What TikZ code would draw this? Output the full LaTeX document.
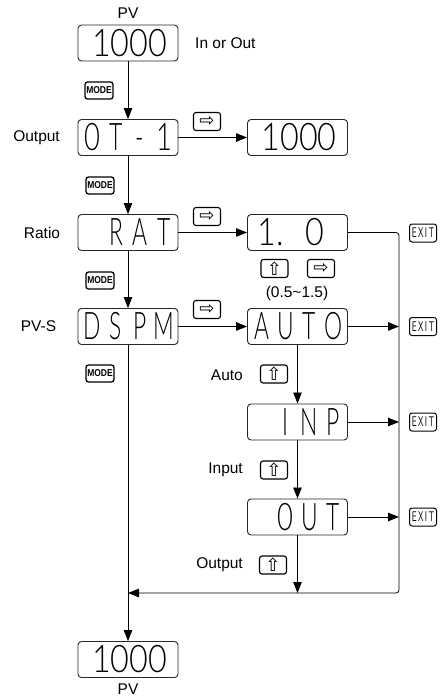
\documentclass[tikz,border=0pt]{standalone}
\usepackage{fontspec}
\usepackage{graphicx}
\setmainfont{Liberation Sans}
\newfontfamily\djv{DejaVu Sans}
\newfontfamily\thinfont{Lato Light}
\usetikzlibrary{arrows.meta}
\newcommand\dispfont{\fontsize{38}{38}\selectfont\thinfont}
\newcommand\lc[1]{\makebox[24pt]{\scalebox{0.6}[1]{#1}}}
\newcommand\dc[1]{\makebox[24pt]{\scalebox{0.72}[1]{#1}}}
\newcommand\ec{\makebox[24pt]{}}
\newcommand\num[1]{\hspace*{3pt}\scalebox{0.85}[1]{#1}}
\begin{document}
\begin{tikzpicture}[x=1pt,y=-1pt,
  disp/.style={draw=black!85, line width=0.9pt, rounded corners=3.5pt, minimum width=100pt, minimum height=36pt, inner sep=0pt, font=\dispfont},
  modekey/.style={draw, line width=1.3pt, rounded corners=2.5pt, minimum width=28pt, minimum height=17pt, inner sep=0pt, font=\fontsize{10}{10}\selectfont\bfseries},
  arrkey/.style={draw, line width=1.1pt, rounded corners=2.5pt, minimum width=27pt, minimum height=18pt, inner sep=0pt, font=\djv\fontsize{18}{18}\selectfont},
  exitkey/.style={draw, line width=1pt, rounded corners=2.5pt, minimum width=27pt, minimum height=18pt, inner sep=0pt, font=\sffamily\fontsize{14}{14}\selectfont},
  lbl/.style={inner sep=0pt, font=\fontsize{15.5}{15.5}\selectfont},
  conn/.style={line width=0.8pt, -{Triangle[length=11pt,width=8.5pt]}}
]
\useasboundingbox (0,0) rectangle (441,698);

% displays
\node[disp] (pv1) at (128,43) {\num{1000}};
\node[disp] (ot) at (128,137.5) {\dc{0}\lc{T}\lc{-}\dc{1}};
\node[disp] (ot1000) at (297.5,137.5) {\num{1000}};
\node[disp] (rat) at (128,232.5) {\ec\lc{R}\lc{A}\lc{T}};
\node[disp] (ratv) at (297.5,232.5) {\makebox[96pt][l]{\hspace{8pt}\scalebox{0.85}[1]{1.}\hspace{22pt}\scalebox{0.85}[1]{0}}};
\node[disp] (dspm) at (128,326.5) {\lc{D}\lc{S}\lc{P}\lc{M}};
\node[disp] (auto) at (297.5,326.5) {\lc{A}\lc{U}\lc{T}\lc{O}};
\node[disp] (inp) at (297.5,422) {\ec\lc{I}\lc{N}\lc{P}};
\node[disp] (out) at (297.5,517) {\ec\dc{0}\lc{U}\lc{T}};
\node[disp] (pv2) at (128,659.5) {\num{1000}};

% labels
\node[lbl] (pvtop) at (128,13) {PV};
\node[lbl, anchor=west] (inout) at (195,43) {In or Out};
\node[lbl, anchor=east] (lout) at (60,137.5) {Output};
\node[lbl] (lratio) at (42,232.5) {Ratio};
\node[lbl] (lpvs) at (38.5,326.5) {PV-S};
\node[lbl, anchor=east] (lauto) at (243,375) {Auto};
\node[lbl, anchor=east] (linp) at (243,470) {Input};
\node[lbl, anchor=east] (loutp) at (243,565) {Output};
\node[lbl] (range) at (297,293) {(0.5\textasciitilde1.5)};
\node[lbl] (pvbot) at (128,689) {PV};

% keys
\node[modekey] (m1) at (99,90.5) {\scalebox{0.85}[1]{MODE}};
\node[modekey] (m2) at (100,185.5) {\scalebox{0.85}[1]{MODE}};
\node[modekey] (m3) at (100,280.5) {\scalebox{0.85}[1]{MODE}};
\node[modekey] (m4) at (100,373.5) {\scalebox{0.85}[1]{MODE}};
\node[arrkey] (r1) at (207,121.5) {⇨};
\node[arrkey] (r2) at (207,216.5) {⇨};
\node[arrkey] (r3) at (207,309.5) {⇨};
\node[arrkey] (u0) at (274.5,268.5) {⇧};
\node[arrkey] (r4) at (321,268.5) {⇨};
\node[arrkey] (u1) at (274,374) {⇧};
\node[arrkey] (u2) at (274,470) {⇧};
\node[arrkey] (u3) at (273,565) {⇧};
\node[exitkey] (e1) at (423,233) {\scalebox{0.6}[1]{E\,X\,I\,T}};
\node[exitkey] (e2) at (423,326.5) {\scalebox{0.6}[1]{E\,X\,I\,T}};
\node[exitkey] (e3) at (423,422) {\scalebox{0.6}[1]{E\,X\,I\,T}};
\node[exitkey] (e4) at (423,517) {\scalebox{0.6}[1]{E\,X\,I\,T}};

% rail coordinates
\coordinate (railtop) at (399,232.5);
\coordinate (railbot) at (399,593);
\coordinate (merge) at (128,593);

% connectors
\draw[conn] (pv1.south) -- (ot.north);
\draw[conn] (ot.east) -- (ot1000.west);
\draw[conn] (ot.south) -- (rat.north);
\draw[conn] (rat.east) -- (ratv.west);
\draw[conn] (rat.south) -- (dspm.north);
\draw[conn] (dspm.east) -- (auto.west);
\draw[conn] (dspm.south) -- (pv2.north);
\draw[conn] (auto.south) -- (inp.north);
\draw[conn] (inp.south) -- (out.north);
\draw[conn] (out.south) -- (out.south |- railbot);
\draw[conn, rounded corners=3pt] (ratv.east) -- (railtop) -- (railbot) -- (merge);
\draw[conn] (auto.east) -- (auto.east -| railtop);
\draw[conn] (inp.east) -- (inp.east -| railtop);
\draw[conn] (out.east) -- (out.east -| railtop);
\end{tikzpicture}
\end{document}
